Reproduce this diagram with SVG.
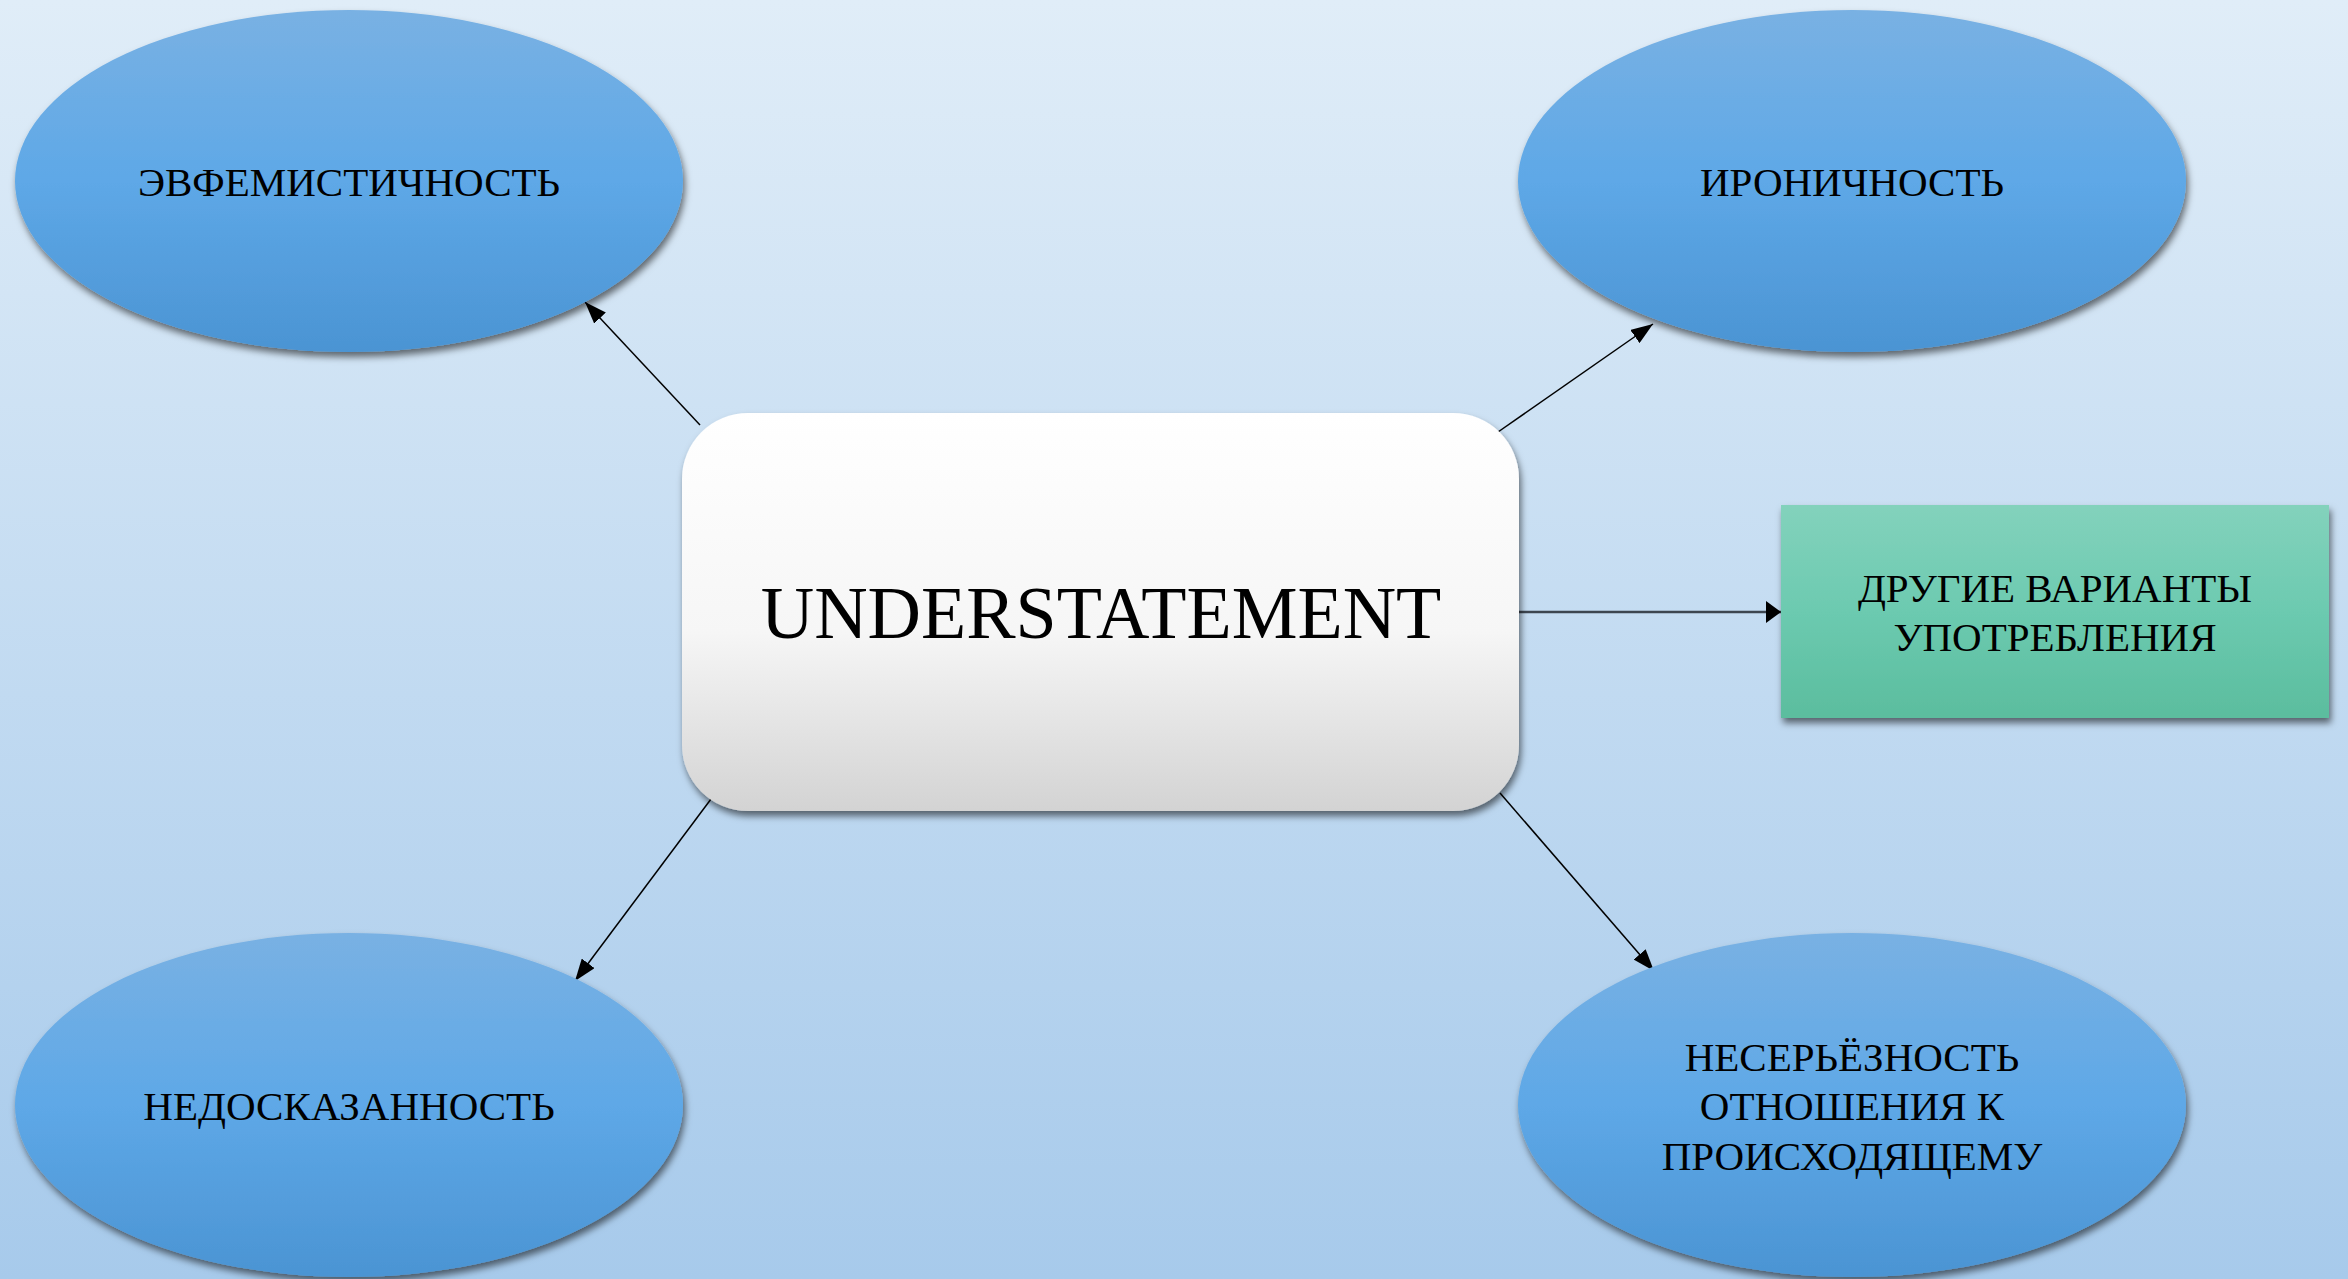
<svg xmlns="http://www.w3.org/2000/svg" width="2348" height="1279" viewBox="0 0 2348 1279">
<defs>
<linearGradient id="bg" x1="0" y1="0" x2="0" y2="1">
<stop offset="0" stop-color="#e0edf8"/>
<stop offset="1" stop-color="#a7caeb"/>
</linearGradient>
<linearGradient id="ell" x1="0" y1="0" x2="0" y2="1">
<stop offset="0" stop-color="#79b1e3"/>
<stop offset="0.5" stop-color="#5ea8e7"/>
<stop offset="1" stop-color="#4b94d3"/>
</linearGradient>
<linearGradient id="ctr" x1="0" y1="0" x2="0" y2="1">
<stop offset="0" stop-color="#ffffff"/>
<stop offset="0.55" stop-color="#f6f6f6"/>
<stop offset="1" stop-color="#d3d3d3"/>
</linearGradient>
<linearGradient id="grn" x1="0" y1="0" x2="0" y2="1">
<stop offset="0" stop-color="#83d2bc"/>
<stop offset="0.5" stop-color="#6ccab0"/>
<stop offset="1" stop-color="#5bbd9e"/>
</linearGradient>
<filter id="sh" x="-10%" y="-10%" width="125%" height="130%">
<feDropShadow dx="2" dy="5" stdDeviation="3.5" flood-color="#000" flood-opacity="0.55"/>
</filter>
<marker id="arr" markerUnits="userSpaceOnUse" markerWidth="24" markerHeight="16" refX="22" refY="8" orient="auto">
<path d="M0,0 L22,8 L0,16 Z" fill="#000"/>
</marker>
<marker id="arr2" markerUnits="userSpaceOnUse" markerWidth="16" markerHeight="22" refX="15" refY="11" orient="auto">
<path d="M0,0 L15,11 L0,22 Z" fill="#000"/>
</marker>
</defs>
<style>
.t{font-family:"Liberation Serif","Times New Roman",serif;fill:#000;text-anchor:middle}
.s{font-size:41px}
.big{font-size:74px}
.con{stroke:#000;stroke-width:1.5;fill:none}
</style>
<rect x="0" y="0" width="2348" height="1279" fill="url(#bg)"/>

<g id="connectors">
<line class="con" x1="700" y1="425" x2="585" y2="302" marker-end="url(#arr)"/>
<line class="con" x1="1498" y1="432" x2="1653" y2="324" marker-end="url(#arr)"/>
<line class="con" x1="714" y1="795" x2="575" y2="981" marker-end="url(#arr)"/>
<line class="con" x1="1500" y1="793" x2="1654" y2="971" marker-end="url(#arr)"/>
<line x1="1519" y1="612" x2="1781" y2="612" stroke="#3d4650" stroke-width="2.5" marker-end="url(#arr2)"/>
</g>

<g id="node-euphemism">
<ellipse cx="349" cy="181" rx="334" ry="171" fill="url(#ell)" filter="url(#sh)"/>
<text class="t s" x="349" y="196">ЭВФЕМИСТИЧНОСТЬ</text>
</g>
<g id="node-irony">
<ellipse cx="1852" cy="181" rx="334" ry="171" fill="url(#ell)" filter="url(#sh)"/>
<text class="t s" x="1852" y="196">ИРОНИЧНОСТЬ</text>
</g>
<g id="node-understatement">
<rect x="682" y="413" width="837" height="398" rx="66" ry="66" fill="url(#ctr)" filter="url(#sh)"/>
<text class="t big" x="1101" y="638">UNDERSTATEMENT</text>
</g>
<g id="node-other">
<rect x="1781" y="505" width="548" height="213" fill="url(#grn)" filter="url(#sh)"/>
<text class="t s" x="2055" y="602">ДРУГИЕ ВАРИАНТЫ</text>
<text class="t s" x="2055" y="651">УПОТРЕБЛЕНИЯ</text>
</g>
<g id="node-reticence">
<ellipse cx="349" cy="1105" rx="334" ry="172" fill="url(#ell)" filter="url(#sh)"/>
<text class="t s" x="349" y="1120">НЕДОСКАЗАННОСТЬ</text>
</g>
<g id="node-frivolity">
<ellipse cx="1852" cy="1105" rx="334" ry="172" fill="url(#ell)" filter="url(#sh)"/>
<text class="t s" x="1852" y="1071">НЕСЕРЬЁЗНОСТЬ</text>
<text class="t s" x="1852" y="1120">ОТНОШЕНИЯ К</text>
<text class="t s" x="1852" y="1170">ПРОИСХОДЯЩЕМУ</text>
</g>
</svg>
